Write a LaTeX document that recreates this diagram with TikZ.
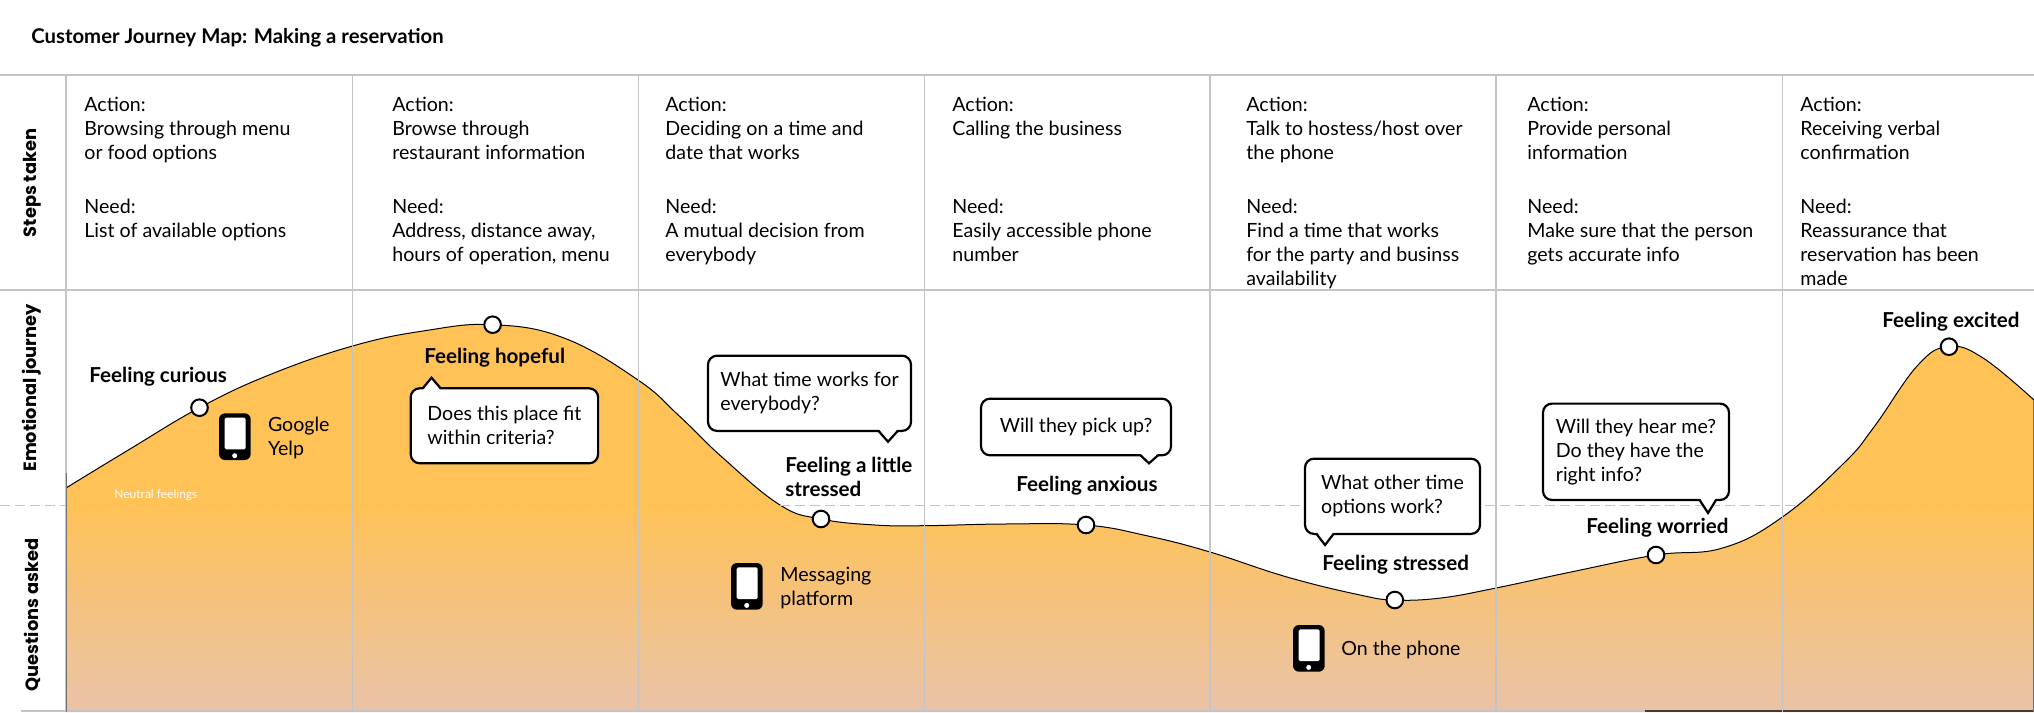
\documentclass[tikz,border=0pt]{standalone}
\usepackage{fontspec}
\setmainfont{Lato}
\newfontfamily\sidefont{Poppins}
\definecolor{gridgray}{HTML}{C4C4C4}
\definecolor{moodtop}{HTML}{FFC257}
\definecolor{moodlow}{HTML}{E9C3A9}
\pgfdeclareverticalshading{moodfade}{100bp}{color(0bp)=(moodlow); color(25bp)=(moodlow); color(51.7bp)=(moodtop); color(100bp)=(moodtop)}
\def\moodcurve{(66,488) (130,449) (199.5,407.7) (269,375) (352.6,346) (425,330.7) (492.6,324.7) (564,338) (638,380) (680,416.7) (723,458) (780,505) (821,519) (875,525) (924.6,525.7) (1005,524) (1086,525) (1148,536) (1210,552) (1287,577) (1360,595) (1394.8,600) (1440.7,598) (1496,588) (1571,572) (1656,555) (1722.6,548) (1782.4,517) (1844,463) (1874,427) (1918,365) (1949,346.7) (1983,358) (2034,400)}
\tikzset{
  gridline/.style={line width=0.6pt, gridgray},
  stepstext/.style={anchor=north west, inner sep=0pt, align=left, font=\fontsize{9.8}{12}\selectfont},
  feeling/.style={anchor=north west, inner sep=0pt, align=left, font=\fontsize{10.3}{12}\selectfont\bfseries},
  rowlabel/.style={rotate=90, inner sep=0pt, font=\fontsize{8.9}{11}\selectfont\sidefont\bfseries},
  dotmark/.style={circle, draw=black, fill=white, line width=1pt, minimum size=8.3pt, inner sep=0pt},
  question/.style={draw=black, fill=white, line width=1.1pt, rounded corners=4.5pt, inner sep=0pt, align=left, font=\fontsize{9.8}{12}\selectfont},
}
% tail of a speech bubble: left x, right x, base y, tip x, tip y
\newcommand{\qtail}[5]{
  \fill[white] ({#1},{#3-0.2*(#5-#3)}) -- (#4,#5) -- ({#2},{#3-0.2*(#5-#3)}) -- cycle;
  \draw[black, line width=1.1pt] (#1,#3) -- (#4,#5) -- (#2,#3);
}
% phone icon, from its top left corner
\newcommand{\phoneicon}[2]{
  \begin{scope}[shift={(#1,#2)}]
  \fill[black, rounded corners=3pt] (0,0) rectangle (31.7,46.7);
  \fill[white, rounded corners=0.7pt] (5.7,4.4) rectangle (26.7,36);
  \fill[white] (15.7,42.4) circle (1.25pt);
  \end{scope}
}

\begin{document}
\begin{tikzpicture}[x=0.5pt, y=-0.5pt]
\useasboundingbox (0,0) rectangle (2034,712);

% curve
\shade[shading=moodfade] plot[smooth, tension=0.7] coordinates {\moodcurve} -- (2034,712) -- (66,712) -- cycle;
\draw[black, line width=0.5pt] plot[smooth, tension=0.7] coordinates {\moodcurve};

% grid
\draw[gridline] (0,75) -- (2034,75);
\draw[gridline] (0,290) -- (2034,290);
\draw[gridline] (21,711) -- (1645,711);
\draw[black!50!moodlow!60!black, line width=0.6pt] (1645,711) -- (2034,711);
\foreach \xpos in {66,352.6,638.3,924.6,1210,1496,1782.4}
  \draw[gridline] (\xpos,75) -- (\xpos,712);
\draw[gridline, dash pattern=on 5pt off 2.5pt, line width=0.45pt] (0,505) -- (2034,505);
\draw[black!55, line width=0.5pt] (66,473) -- (66,712);
\draw[black!55, line width=0.5pt] (2033.5,400) -- (2033.5,712);

\node[anchor=north west, inner sep=0pt, font=\fontsize{10.15}{12}\selectfont\bfseries] (title) at (31,28.5) {Customer Journey Map: Making a reservation};

\node[rowlabel] (steps) at (32,183) {Steps taken};
\node[rowlabel] (emotion) at (32,388) {Emotional journey};
\node[rowlabel] (asked) at (32,615) {Questions asked};

% steps
\node[stepstext] (act1) at (84,97) {Action:\\Browsing through menu\\or food options};
\node[stepstext] (need1) at (84,199) {Need:\\List of available options};
\node[stepstext] (act2) at (392,97) {Action:\\Browse through\\restaurant information};
\node[stepstext] (need2) at (392,199) {Need:\\Address, distance away,\\hours of operation, menu};
\node[stepstext] (act3) at (665,97) {Action:\\Deciding on a time and\\date that works};
\node[stepstext] (need3) at (665,199) {Need:\\A mutual decision from\\everybody};
\node[stepstext] (act4) at (952,97) {Action:\\Calling the business};
\node[stepstext] (need4) at (952,199) {Need:\\Easily accessible phone\\number};
\node[stepstext] (act5) at (1246,97) {Action:\\Talk to hostess/host over\\the phone};
\node[stepstext] (need5) at (1246,199) {Need:\\Find a time that works\\for the party and businss\\availability};
\node[stepstext] (act6) at (1527,97) {Action:\\Provide personal\\information};
\node[stepstext] (need6) at (1527,199) {Need:\\Make sure that the person\\gets accurate info};
\node[stepstext] (act7) at (1800,97) {Action:\\Receiving verbal\\confirmation};
\node[stepstext] (need7) at (1800,199) {Need:\\Reassurance that\\reservation has been\\made};

\node[anchor=west, inner sep=0pt, white, font=\fontsize{6}{7}\selectfont] (neutral) at (114,495) {Neutral feelings};

% points on the curve
\node[dotmark] (curious) at (199.5,407.7) {};
\node[dotmark] (hopeful) at (492.6,324.7) {};
\node[dotmark] (little) at (821,519) {};
\node[dotmark] (anxious) at (1086,525) {};
\node[dotmark] (stressed) at (1394.8,600) {};
\node[dotmark] (worried) at (1656,555) {};
\node[dotmark] (excited) at (1949,346.7) {};

\node[feeling] (lcurious) at (89,367) {Feeling curious};
\node[feeling] (lhopeful) at (424,348) {Feeling hopeful};
\node[feeling] (llittle) at (785,457) {Feeling a little\\stressed};
\node[feeling] (lanxious) at (1016,476) {Feeling anxious};
\node[feeling] (lstressed) at (1322,555) {Feeling stressed};
\node[feeling] (lworried) at (1586,518) {Feeling worried};
\node[feeling] (lexcited) at (1882,312) {Feeling excited};

% questions
\node[question, minimum width=93.7pt, minimum height=37.5pt] (q1) at (504.4,425.8) {Does this place fit\\within criteria?};
\qtail{422.8}{440.6}{388.3}{431.5}{377.7}
\node[question, minimum width=101.5pt, minimum height=37.6pt] (q2) at (809.5,393.3) {What time works for\\everybody?};
\qtail{878.6}{897.7}{431}{888}{441.7}
\node[question, minimum width=95pt, minimum height=28.3pt] (q3) at (1076,427) {Will they pick up?};
\qtail{1140.5}{1158}{455.3}{1149}{463.3}
\node[question, minimum width=87.5pt, minimum height=37.6pt] (q4) at (1392.5,496.3) {What other time\\options work?};
\qtail{1316.6}{1333.5}{534}{1325}{545}
\node[question, minimum width=93pt, minimum height=48.2pt] (q5) at (1636,451.8) {Will they hear me?\\Do they have the\\right info?};
\qtail{1699.6}{1716}{500}{1708}{513}

% channels
\phoneicon{219}{413.3}
\node[stepstext] (google) at (267.6,417) {Google\\Yelp};
\phoneicon{731}{563}
\node[stepstext] (messaging) at (780,567) {Messaging\\platform};
\phoneicon{1293}{625}
\node[stepstext] (onphone) at (1341,641) {On the phone};
\end{tikzpicture}
\end{document}
